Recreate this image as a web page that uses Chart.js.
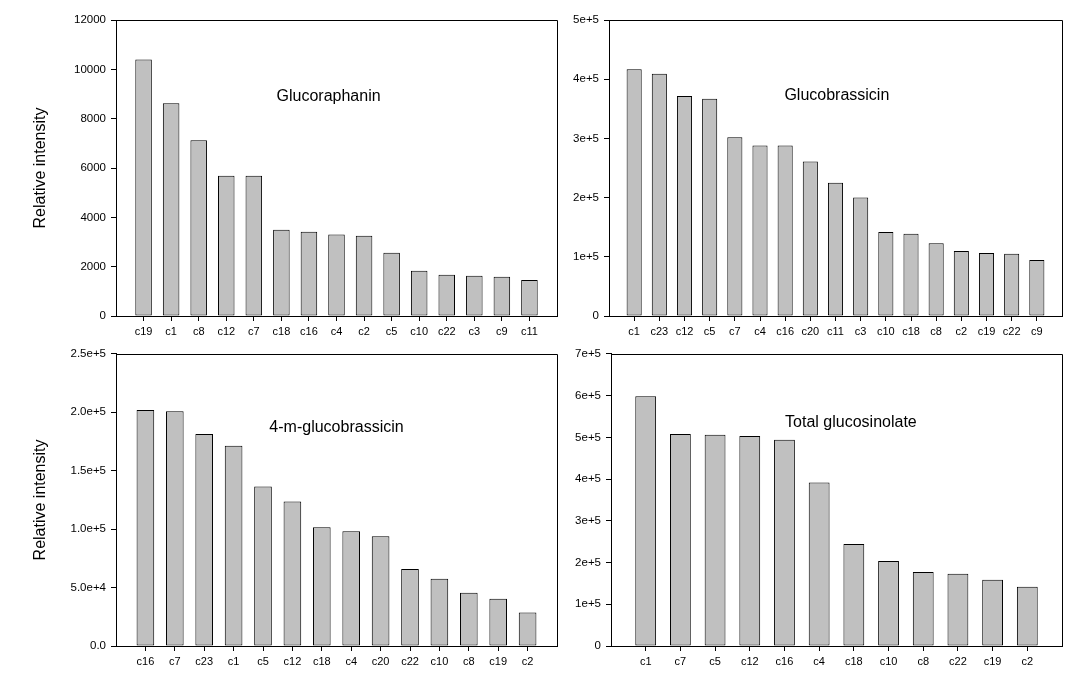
<!DOCTYPE html>
<html><head><meta charset="utf-8">
<script src="https://cdn.jsdelivr.net/npm/chart.js@4"></script>
<style>
body{margin:0;background:#fff;width:1082px;height:685px;overflow:hidden;position:relative}
canvas{position:absolute}
</style>
</head><body>
<canvas id="p1" width="560" height="342" style="left:0;top:0"></canvas>
<canvas id="p2" width="522" height="342" style="left:560px;top:0"></canvas>
<canvas id="p3" width="560" height="343" style="left:0;top:342px"></canvas>
<canvas id="p4" width="522" height="343" style="left:560px;top:342px"></canvas>
<script>
// ---- data ----
const cats1 = ['c19','c1','c8','c12','c7','c18','c16','c4','c2','c5','c10','c22','c3','c9','c11'];
const vals1 = [10400, 8620, 7120, 5690, 5690, 3500, 3420, 3300, 3250, 2560, 1830, 1670, 1630, 1590, 1460];
const yTicks1 = [0, 2000, 4000, 6000, 8000, 10000, 12000];
const yLabels1 = ['0','2000','4000','6000','8000','10000','12000'];

const cats2 = ['c1','c23','c12','c5','c7','c4','c16','c20','c11','c3','c10','c18','c8','c2','c19','c22','c9'];
const vals2 = [417000, 409000, 371500, 367000, 302000, 288000, 288000, 261000, 225000, 200000, 142000, 139000, 123000, 110000, 106500, 105000, 94600];
const yTicks2 = [0, 100000, 200000, 300000, 400000, 500000];
const yLabels2 = ['0','1e+5','2e+5','3e+5','4e+5','5e+5'];

const cats3 = ['c16','c7','c23','c1','c5','c12','c18','c4','c20','c22','c10','c8','c19','c2'];
const vals3 = [201900, 201000, 181500, 171300, 136500, 123700, 101600, 98200, 94000, 66000, 57500, 45600, 40500, 28600];
const yTicks3 = [0, 50000, 100000, 150000, 200000, 250000];
const yLabels3 = ['0.0','5.0e+4','1.0e+5','1.5e+5','2.0e+5','2.5e+5'];

const cats4 = ['c1','c7','c5','c12','c16','c4','c18','c10','c8','c22','c19','c2'];
const vals4 = [598700, 508300, 506000, 503500, 494000, 391700, 244200, 203800, 177600, 172900, 158600, 141900];
const yTicks4 = [0, 100000, 200000, 300000, 400000, 500000, 600000, 700000];
const yLabels4 = ['0','1e+5','2e+5','3e+5','4e+5','5e+5','6e+5','7e+5'];

const titles = ['Glucoraphanin', 'Glucobrassicin', '4-m-glucobrassicin', 'Total glucosinolate'];
const yAxisTitle = 'Relative intensity';

// ---- plugins ----
const FONT = '"Liberation Sans", Arial, sans-serif';
const framePlugin = {
  id: 'frame',
  afterDraw(chart) {
    const a = chart.chartArea, ctx = chart.ctx;
    ctx.save();
    ctx.strokeStyle = '#000'; ctx.lineWidth = 1;
    ctx.beginPath();
    ctx.moveTo(Math.round(a.left) , Math.round(a.top) + 0.5);
    ctx.lineTo(Math.round(a.right) + 0.5, Math.round(a.top) + 0.5);
    ctx.lineTo(Math.round(a.right) + 0.5, Math.round(a.bottom));
    ctx.stroke();
    ctx.restore();
  }
};
const labelPlugin = {
  id: 'panelLabel',
  afterDatasetsDraw(chart, args, opts) {
    if (!opts || !opts.text) return;
    const a = chart.chartArea, ctx = chart.ctx;
    ctx.save();
    ctx.font = '16px ' + FONT;
    ctx.fillStyle = '#000';
    ctx.textAlign = 'center'; ctx.textBaseline = 'middle';
    ctx.fillText(opts.text, a.left + opts.fx * (a.right - a.left), a.top + opts.fy * (a.bottom - a.top));
    ctx.restore();
  }
};

function makeChart(id, cats, vals, yTicks, yLabels, cfg) {
  const n = cats.length;
  return new Chart(document.getElementById(id), {
    type: 'bar',
    data: {
      datasets: [{
        data: vals.map((v, i) => ({ x: i, y: v })),
        backgroundColor: '#c0c0c0',
        borderColor: '#000',
        borderWidth: 1,
        borderSkipped: false,
        categoryPercentage: 1,
        barPercentage: 0.6
      }]
    },
    plugins: [framePlugin, labelPlugin],
    options: {
      responsive: false, animation: false, devicePixelRatio: 1,
      layout: { padding: { left: 0, top: cfg.padTop, right: cfg.padRight, bottom: 0 } },
      plugins: {
        legend: { display: false }, tooltip: { enabled: false },
        panelLabel: { text: cfg.title, fx: cfg.fx, fy: cfg.fy }
      },
      scales: {
        x: {
          type: 'linear', min: -1, max: n, offset: false,
          afterBuildTicks: s => { s.ticks = cats.map((_, i) => ({ value: i })); },
          afterFit: s => { s.height = cfg.xH; },
          ticks: { autoSkip: false, maxRotation: 0, padding: 4, color: '#000',
                   font: { family: FONT, size: 11 },
                   callback: (v, i) => cats[i] },
          grid: { offset: false, drawOnChartArea: false, drawTicks: true, tickLength: 5, color: '#000' },
          border: { display: true, color: '#000', width: 1 }
        },
        y: {
          min: 0, max: yTicks[yTicks.length - 1],
          afterBuildTicks: s => { s.ticks = yTicks.map(v => ({ value: v })); },
          afterFit: s => { s.width = cfg.yW; },
          ticks: { padding: 5, color: '#000', font: { family: FONT, size: 11.5 },
                   callback: (v, i) => yLabels[i] },
          grid: { drawOnChartArea: false, drawTicks: true, tickLength: 5, color: '#000' },
          border: { display: true, color: '#000', width: 1 },
          title: { display: cfg.yTitle, text: yAxisTitle, color: '#000',
                   font: { family: FONT, size: 16 }, padding: { top: 31, bottom: 0 } }
        }
      }
    }
  });
}

makeChart('p1', cats1, vals1, yTicks1, yLabels1,
  { title: titles[0], fx: 0.482, fy: 0.259, padTop: 20, padRight: 3, xH: 26, yW: 116, yTitle: true });
makeChart('p2', cats2, vals2, yTicks2, yLabels2,
  { title: titles[1], fx: 0.503, fy: 0.256, padTop: 20, padRight: 20, xH: 26, yW: 49, yTitle: false });
makeChart('p3', cats3, vals3, yTicks3, yLabels3,
  { title: titles[2], fx: 0.50, fy: 0.251, padTop: 10, padRight: 3, xH: 39, yW: 116, yTitle: true });
makeChart('p4', cats4, vals4, yTicks4, yLabels4,
  { title: titles[3], fx: 0.532, fy: 0.235, padTop: 10, padRight: 20, xH: 39, yW: 51, yTitle: false });
</script>
</body></html>
